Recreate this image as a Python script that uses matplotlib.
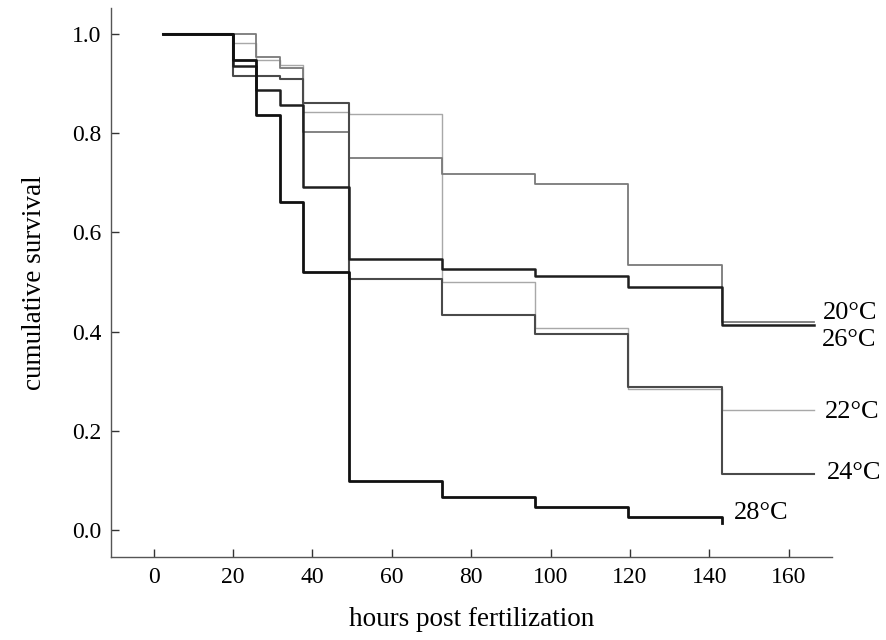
import matplotlib
matplotlib.use("Agg")
import matplotlib.pyplot as plt

plt.rcParams["font.family"] = ["Liberation Serif", "DejaVu Serif"]

# ---------------- Data ----------------
hours = [2.3, 19.9, 25.8, 31.7, 37.5, 49.3, 72.6, 96.1, 119.6, 143.2, 166.3]

surv_20 = [1.0, 1.0, 0.953, 0.931, 0.803, 0.751, 0.717, 0.697, 0.534, 0.419, 0.419]
surv_22 = [1.0, 0.982, 0.948, 0.937, 0.842, 0.838, 0.500, 0.407, 0.284, 0.243, 0.243]
surv_24 = [1.0, 0.915, 0.915, 0.909, 0.861, 0.506, 0.433, 0.395, 0.289, 0.112, 0.112]
surv_26 = [1.0, 0.935, 0.887, 0.857, 0.692, 0.546, 0.526, 0.513, 0.491, 0.413, 0.413]
surv_28 = [1.0, 0.947, 0.836, 0.661, 0.520, 0.099, 0.066, 0.046, 0.027, 0.015]

labels = ["20°C", "22°C", "24°C", "26°C", "28°C"]
label_pos = [(168.6, 0.438), (169.2, 0.238), (169.6, 0.114), (168.4, 0.383), (146.3, 0.034)]

x_ticks = [0, 20, 40, 60, 80, 100, 120, 140, 160]
y_ticks = [0.0, 0.2, 0.4, 0.6, 0.8, 1.0]

# ---------------- Figure ----------------
fig = plt.figure(figsize=(8.87, 6.4), dpi=100)
ax = fig.add_axes([0.125, 0.130, 0.813, 0.857])

series = [
    (surv_22, "#a8a8a8", 1.0),
    (surv_20, "#7a7a7a", 1.3),
    (surv_24, "#4a4a4a", 1.5),
    (surv_26, "#1e1e1e", 1.8),
    (surv_28, "#101010", 2.0),
]
for s, col, lw in series:
    ax.step(hours[:len(s)], s, where="post", color=col, lw=lw)

for txt, (lx, ly) in zip(labels, label_pos):
    ax.text(lx, ly, txt, fontsize=19, ha="left", va="center", color="black")

ax.set_xlim(-10.8, 170.9)
ax.set_ylim(-0.054, 1.052)
ax.set_xticks(x_ticks)
ax.set_yticks(y_ticks)
ax.set_yticklabels([f"{v:.1f}" for v in y_ticks])
ax.tick_params(direction="in", length=6, width=1, labelsize=17, colors="#333333",
               labelcolor="black", pad=7)

for side in ["top", "right"]:
    ax.spines[side].set_visible(False)
for side in ["left", "bottom"]:
    ax.spines[side].set_color("#555555")
    ax.spines[side].set_linewidth(1)

ax.set_xlabel("hours post fertilization", fontsize=19.5, labelpad=14)
ax.set_ylabel("cumulative survival", fontsize=19.5, labelpad=18)

fig.savefig("out.png", dpi=100)
